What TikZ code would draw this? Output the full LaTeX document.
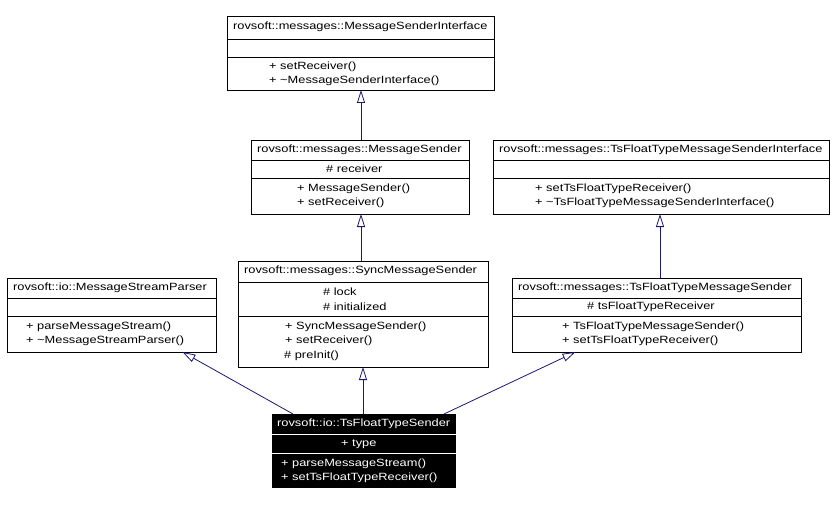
\documentclass[tikz,border=0pt]{standalone}
\usepackage{fontspec}
\setmainfont[FakeStretch=1.22]{Liberation Sans}
\usetikzlibrary{arrows.meta}
\definecolor{edgeblue}{HTML}{191970}
\begin{document}
\begin{tikzpicture}[x=1pt, y=-1pt,
		cls/.style={draw, fill=white, anchor=north west, inner sep=0pt, outer sep=0pt, line width=0.8pt},
		selcls/.style={fill=black, anchor=north west, inner sep=0pt, outer sep=0pt},
		txt/.style={anchor=west, inner sep=0pt, font=\fontsize{10.5}{12}\selectfont},
		inh/.style={draw=edgeblue, line width=0.8pt, -{Triangle[open, length=13pt, width=8pt]}}]
		\useasboundingbox[fill=white] (0,0) rectangle (834,505);
		% base classes
		\node[cls, minimum width=267pt, minimum height=74pt] (msi) at (227,16) {};
		\draw[line width=0.8pt] (227,39) -- (494,39) (227,57) -- (494,57);
		\node[txt] (msi-t) at (233,27) {rovsoft::messages::MessageSenderInterface};
		\node[txt] (msi-m1) at (269,67) {+ setReceiver()};
		\node[txt] (msi-m2) at (269,81) {+ \textasciitilde MessageSenderInterface()};
		\node[cls, minimum width=218pt, minimum height=74pt] (ms) at (251,140) {};
		\draw[line width=0.8pt] (251,160) -- (469,160) (251,178) -- (469,178);
		\node[txt] (ms-t) at (257,150) {rovsoft::messages::MessageSender};
		\node[txt] (ms-a1) at (326,169) {\# receiver};
		\node[txt] (ms-m1) at (297,189) {+ MessageSender()};
		\node[txt] (ms-m2) at (297,203) {+ setReceiver()};
		\node[cls, minimum width=336pt, minimum height=74pt] (tfmsi) at (493,140) {};
		\draw[line width=0.8pt] (493,160) -- (829,160) (493,178) -- (829,178);
		\node[txt] (tfmsi-t) at (499,150) {rovsoft::messages::TsFloatTypeMessageSenderInterface};
		\node[txt] (tfmsi-m1) at (535,189) {+ setTsFloatTypeReceiver()};
		\node[txt] (tfmsi-m2) at (535,203) {+ \textasciitilde TsFloatTypeMessageSenderInterface()};
		% middle row
		\node[cls, minimum width=209pt, minimum height=74pt] (msp) at (7,278) {};
		\draw[line width=0.8pt] (7,298) -- (216,298) (7,316) -- (216,316);
		\node[txt] (msp-t) at (13,288) {rovsoft::io::MessageStreamParser};
		\node[txt] (msp-m1) at (26,327) {+ parseMessageStream()};
		\node[txt] (msp-m2) at (26,341) {+ \textasciitilde MessageStreamParser()};
		\node[cls, minimum width=250pt, minimum height=106pt] (sms) at (238,261) {};
		\draw[line width=0.8pt] (238,282) -- (488,282) (238,316) -- (488,316);
		\node[txt] (sms-t) at (244,271) {rovsoft::messages::SyncMessageSender};
		\node[txt] (sms-a1) at (323,292) {\# lock};
		\node[txt] (sms-a2) at (323,307) {\# initialized};
		\node[txt] (sms-m1) at (285,327) {+ SyncMessageSender()};
		\node[txt] (sms-m2) at (285,341) {+ setReceiver()};
		\node[txt] (sms-m3) at (284,356) {\# preInit()};
		\node[cls, minimum width=289pt, minimum height=74pt] (tfms) at (512,278) {};
		\draw[line width=0.8pt] (512,298) -- (801,298) (512,316) -- (801,316);
		\node[txt] (tfms-t) at (518,288) {rovsoft::messages::TsFloatTypeMessageSender};
		\node[txt] (tfms-a1) at (587,307) {\# tsFloatTypeReceiver};
		\node[txt] (tfms-m1) at (562,327) {+ TsFloatTypeMessageSender()};
		\node[txt] (tfms-m2) at (562,341) {+ setTsFloatTypeReceiver()};
		% the class itself
		\node[selcls, minimum width=184pt, minimum height=74pt] (tfs) at (272,414) {};
		\draw[white, line width=0.8pt] (272,434) -- (456,434) (272,453) -- (456,453);
		\node[txt, text=white] (tfs-t) at (277,424) {rovsoft::io::TsFloatTypeSender};
		\node[txt, text=white] (tfs-a1) at (341,444) {+ type};
		\node[txt, text=white] (tfs-m1) at (281,464) {+ parseMessageStream()};
		\node[txt, text=white] (tfs-m2) at (281,478) {+ setTsFloatTypeReceiver()};
		% inheritance
		\draw[inh] (ms.north -| 361,0) -- (msi.south -| 361,0);
		\draw[inh] (sms.north -| 361,0) -- (ms.south -| 361,0);
		\draw[inh] (tfms.north -| 660,0) -- (tfmsi.south -| 660,0);
		\draw[inh] (tfs.north -| 363,0) -- (sms.south -| 363,0);
		\draw[inh] ([xshift=-71pt]tfs.north) -- ([xshift=71pt]msp.south);
		\draw[inh] ([xshift=80pt]tfs.north) -- ([xshift=-81pt]tfms.south);
	\end{tikzpicture}
\end{document}
